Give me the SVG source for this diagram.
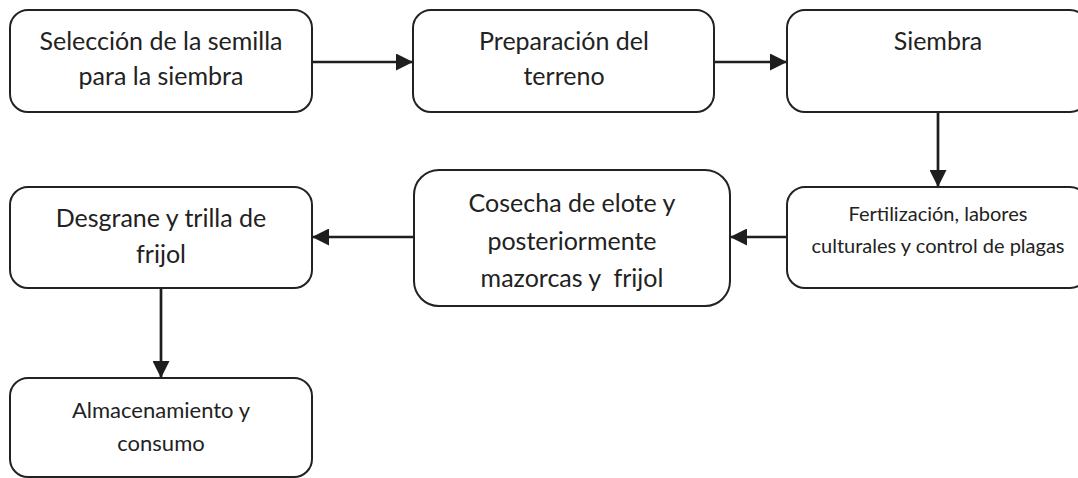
<svg xmlns="http://www.w3.org/2000/svg" width="1078" height="478" viewBox="0 0 1078 478">
<style>
.box{fill:#fff;stroke:#222;stroke-width:2}
.t{font-family:Lato,"Liberation Sans",sans-serif;font-size:25px;fill:#222;text-anchor:middle}
.s{font-size:20px}
.m{font-size:22px}
.c{stroke:#1e1e1e;stroke-width:2.7;fill:none;marker-end:url(#ah)}
</style>
<defs>
<marker id="ah" markerUnits="userSpaceOnUse" markerWidth="17" markerHeight="17" refX="17" refY="8.5" orient="auto">
<path d="M0,0 L17,8.5 L0,17 z" fill="#1e1e1e"/>
</marker>
</defs>
<rect width="1078" height="478" fill="#fff"/>
<g id="connectors">
<path class="c" d="M312,62 H413"/>
<path class="c" d="M714,62 H787"/>
<path class="c" d="M938,112 V187"/>
<path class="c" d="M787,237 H730"/>
<path class="c" d="M414,237 H312"/>
<path class="c" d="M161,288 V378"/>
</g>
<g id="n1"><rect class="box" x="10" y="10" width="302" height="102" rx="18"/>
<text class="t" x="161" y="50">Selección de la semilla</text><text class="t" x="161" y="85">para la siembra</text></g>
<g id="n2"><rect class="box" x="413" y="10" width="301" height="102" rx="18"/>
<text class="t" x="564" y="50">Preparación del</text><text class="t" x="564" y="85">terreno</text></g>
<g id="n3"><rect class="box" x="787" y="10" width="301" height="102" rx="18"/>
<text class="t" x="938" y="50">Siembra</text></g>
<g id="n4"><rect class="box" x="787" y="187" width="301" height="101" rx="18"/>
<text class="t s" x="938" y="221">Fertilización, labores</text><text class="t s" x="938" y="253">culturales y control de plagas</text></g>
<g id="n5"><rect class="box" x="414" y="170" width="316" height="136" rx="25"/>
<text class="t" x="572" y="212">Cosecha de elote y</text><text class="t" x="572" y="250">posteriormente</text><text class="t" x="572" y="287" xml:space="preserve">mazorcas y  frijol</text></g>
<g id="n6"><rect class="box" x="10" y="187" width="302" height="101" rx="18"/>
<text class="t" x="161" y="227">Desgrane y trilla de</text><text class="t" x="161" y="263">frijol</text></g>
<g id="n7"><rect class="box" x="10" y="378" width="302" height="99" rx="18"/>
<text class="t m" x="161" y="418">Almacenamiento y</text><text class="t m" x="161" y="451">consumo</text></g>
</svg>
